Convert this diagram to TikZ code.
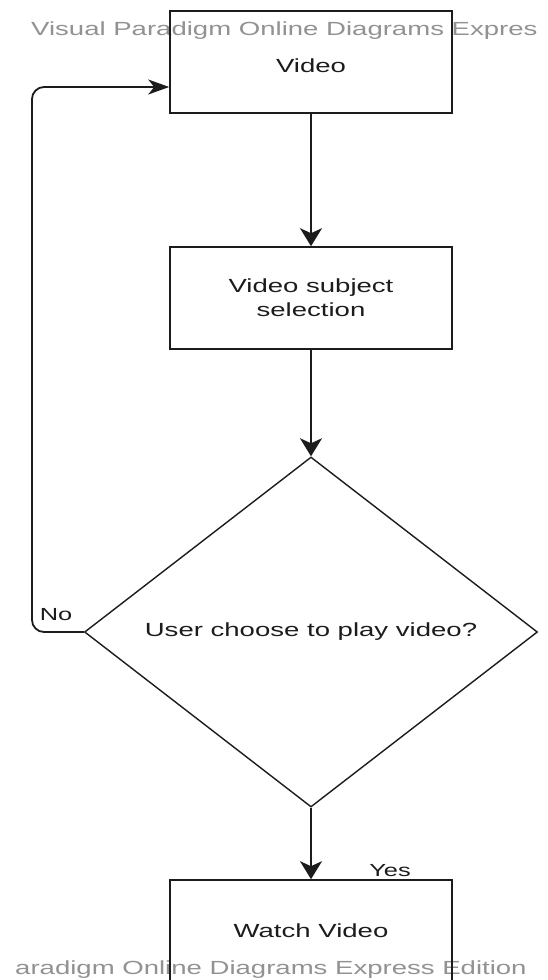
\documentclass[tikz,border=0pt]{standalone}
\usepackage{fontspec}
\setmainfont{Liberation Sans}[FakeStretch=1.45]
\usetikzlibrary{arrows.meta,shapes.geometric}
\definecolor{ink}{HTML}{1C1C1C}
\definecolor{wmgray}{HTML}{929292}
\tikzset{
  box/.style={draw=ink, line width=1.6pt, rectangle, inner sep=0pt,
    minimum width=282pt, minimum height=102pt, text=ink,
    font=\fontsize{19pt}{24pt}\selectfont, align=center},
  decision/.style={draw=ink, line width=1.4pt, diamond, inner sep=0pt,
    minimum width=453pt, minimum height=307pt, text=ink,
    font=\fontsize{19pt}{24pt}\selectfont},
  flow/.style={draw=ink, line width=1.8pt,
    -{Stealth[length=18pt,width=22pt,inset=5pt]}},
  backflow/.style={draw=ink, line width=1.8pt, rounded corners=12pt,
    -{Stealth[length=21pt,width=15pt,inset=6pt]}},
  lbl/.style={text=ink, inner sep=0pt, font=\fontsize{17.5pt}{20pt}\selectfont},
  wm/.style={text=wmgray, inner sep=0pt, anchor=base west,
    font=\fontsize{19pt}{24pt}\selectfont}
}
\begin{document}
\begin{tikzpicture}[x=1pt, y=-1pt]
  \useasboundingbox (0,0) rectangle (547,980);
  \clip (0,0) rectangle (547,980);
  \fill[white] (0,0) rectangle (547,980);

  % watermark lines
  \node[wm] (wmtop) at (31,35) {Visual Paradigm Online Diagrams Expres};
  \node[wm] (wmbot) at (15,974) {aradigm Online Diagrams Express Edition};

  % process steps
  \node[box, text height=21.5pt, text depth=0pt] (video) at (311,62) {Video};
  \node[box] (subj) at (311,298) {Video subject\\selection};
  \node[decision] (dec) at (311,632) {User choose to play video?};
  \node[box] (watch) at (311,931) {Watch Video};

  % connectors
  \draw[flow] (video.south) -- (subj.north);
  \draw[flow] (subj.south) -- (dec.north);
  \draw[flow] (dec.south) -- (watch.north);

  \coordinate (loop) at (32,87);
  \draw[backflow] (dec.west) -| (loop) -- ([yshift=-25pt]video.west);

  % branch labels
  \node[lbl] (no) at (56,615) {No};
  \node[lbl] (yes) at (390,871) {Yes};
\end{tikzpicture}
\end{document}
